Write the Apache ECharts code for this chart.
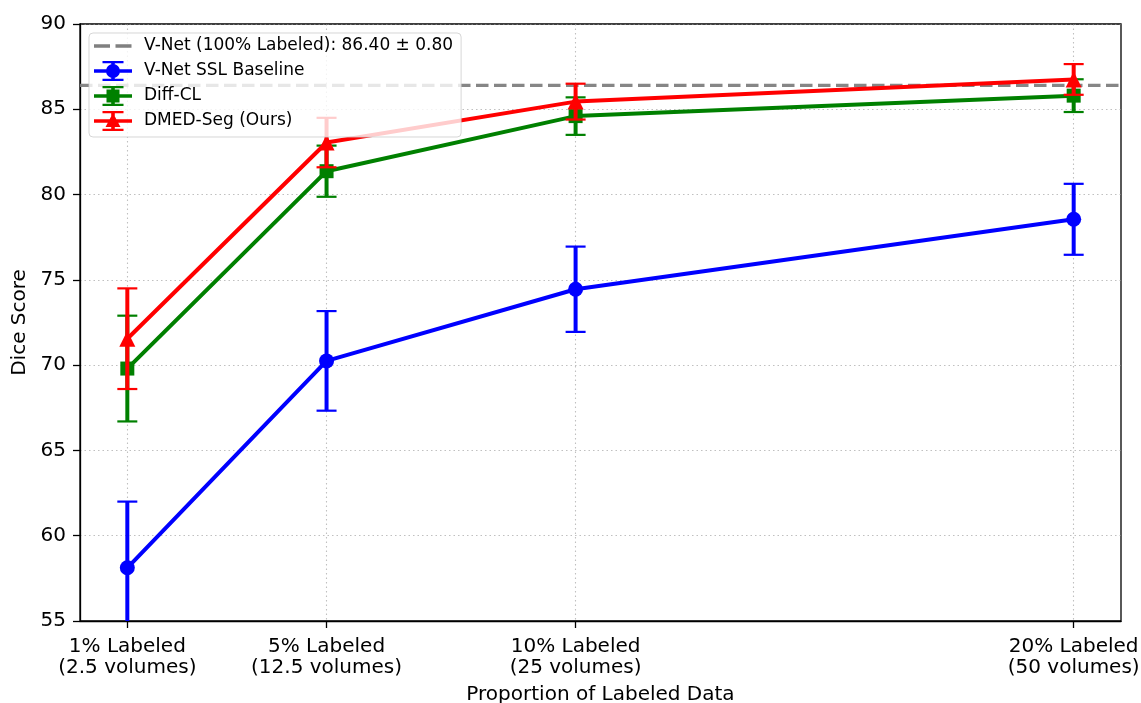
<!DOCTYPE html>
<html>
<head>
<meta charset="utf-8">
<script src="https://cdn.jsdelivr.net/npm/echarts@6/dist/echarts.min.js"></script>
<style>
html,body{margin:0;padding:0;background:#fff;}
#chart{width:1141px;height:703px;}
</style>
</head>
<body>
<div id="chart"></div>
<script>
// ---- data ----
const xVals = [1, 5, 10, 20];
const xLabels = ['1% Labeled\n(2.5 volumes)', '5% Labeled\n(12.5 volumes)', '10% Labeled\n(25 volumes)', '20% Labeled\n(50 volumes)'];
const yTicks = [55, 60, 65, 70, 75, 80, 85, 90];
const baselineName = 'V-Net SSL Baseline';
const baselineMean = [58.12, 70.25, 74.45, 78.55];
const baselineErr = [3.88, 2.92, 2.50, 2.08];
const diffclName = 'Diff-CL';
const diffclMean = [69.80, 81.37, 84.60, 85.80];
const diffclErr = [3.10, 1.50, 1.10, 0.96];
const dmedName = 'DMED-Seg (Ours)';
const dmedMean = [71.55, 83.05, 85.45, 86.75];
const dmedErr = [2.95, 1.45, 1.05, 0.90];
const refName = 'V-Net (100% Labeled): 86.40 ± 0.80';
const refValue = 86.40;
const xMin = 0.05, xMax = 20.95;
const yMin = 55, yMax = 90;

// ---- legend icons ----
const errBase = 'M0 8.2H38V11.8H0Z M17.2 0H20.8V20H17.2Z M8.5 0H29.5V2.2H8.5Z M8.5 17.8H29.5V20H8.5Z ';
const iconCircle = 'path://' + errBase + 'M26 10A7 7 0 1 1 12 10A7 7 0 1 1 26 10Z';
const iconSquare = 'path://' + errBase + 'M12.5 3.5H25.5V16.5H12.5Z';
const iconTri = 'path://' + errBase + 'M19 2L26.5 16L11.5 16Z';
const iconDash = 'path://M0 0H0.01V0.01H0Z M37.99 19.99H38V20H37.99Z M0 8.3H16V11.7H0Z M21.5 8.3H37.5V11.7H21.5Z';

const FONT = 'DejaVu Sans';

function lineData(mean) { return xVals.map((x, i) => [x, mean[i]]); }
function errData(mean, err) { return xVals.map((x, i) => [x, mean[i] - err[i], mean[i] + err[i]]); }

function errRender(color) {
  return function (params, api) {
    const x = api.value(0), lo = api.value(1), hi = api.value(2);
    const pLo = api.coord([x, lo]);
    const pHi = api.coord([x, hi]);
    const cs = params.coordSys;
    const top = cs.y, bot = cs.y + cs.height;
    const clamp = v => Math.max(top, Math.min(bot, v));
    const y1 = clamp(pHi[1]), y2 = clamp(pLo[1]);
    const cx = pLo[0];
    const hw = 10;
    const children = [{
      type: 'line', shape: { x1: cx, y1: y1, x2: cx, y2: y2 },
      style: { stroke: color, lineWidth: 4 }
    }];
    if (pHi[1] >= top && pHi[1] <= bot) children.push({
      type: 'line', shape: { x1: cx - hw, y1: pHi[1], x2: cx + hw, y2: pHi[1] },
      style: { stroke: color, lineWidth: 2.2 }
    });
    if (pLo[1] >= top && pLo[1] <= bot) children.push({
      type: 'line', shape: { x1: cx - hw, y1: pLo[1], x2: cx + hw, y2: pLo[1] },
      style: { stroke: color, lineWidth: 2.2 }
    });
    return { type: 'group', children: children };
  };
}

function lineSeries(name, mean, color, symbol, size, z) {
  return {
    name: name, type: 'line', data: lineData(mean), z: z,
    symbol: symbol, symbolSize: size, showSymbol: true,
    lineStyle: { color: color, width: 4 },
    itemStyle: { color: color, borderWidth: 0 },
    emphasis: { disabled: true }, animation: false
  };
}
function errSeries(name, mean, err, color, z) {
  return {
    name: name, type: 'custom', data: errData(mean, err), z: z,
    renderItem: errRender(color), encode: { x: 0, y: [1, 2] },
    silent: true, animation: false
  };
}

const chart = echarts.init(document.getElementById('chart'), null, { renderer: 'canvas' });
const gridLine = { show: true, lineStyle: { color: 'rgba(150,150,150,0.6)', width: 1.1, type: [1.5, 3] } };

chart.setOption({
  animation: false,
  backgroundColor: '#fff',
  textStyle: { fontFamily: FONT },
  grid: {
    left: 80, right: 20, top: 24, bottom: 82, containLabel: false, outerBoundsMode: 'none',
    show: true, borderColor: '#000', borderWidth: 1.3, backgroundColor: 'transparent'
  },
  legend: {
    orient: 'vertical', left: 89, top: 33, z: 20,
    itemWidth: 38, itemHeight: 20, itemGap: 5,
    padding: [3, 8, 6, 5],
    backgroundColor: 'rgba(255,255,255,0.8)',
    borderColor: 'rgba(204,204,204,0.8)', borderWidth: 1, borderRadius: 4,
    textStyle: { fontFamily: FONT, fontSize: 17, color: '#000', padding: [0, 0, 0, 7] },
    itemStyle: { borderWidth: 0 },
    selectedMode: false,
    data: [
      { name: refName, icon: iconDash },
      { name: baselineName, icon: iconCircle },
      { name: diffclName, icon: iconSquare },
      { name: dmedName, icon: iconTri }
    ]
  },
  xAxis: {
    type: 'value', min: xMin, max: xMax,
    name: 'Proportion of Labeled Data', nameLocation: 'middle', nameGap: 64,
    nameTextStyle: { fontFamily: FONT, fontSize: 20, color: '#000' },
    axisLine: { show: true, onZero: false, lineStyle: { color: '#000', width: 1.3 } },
    axisTick: { show: true, length: 7, lineStyle: { color: '#000', width: 1.3 }, customValues: xVals },
    axisLabel: {
      customValues: xVals, margin: 15, fontFamily: FONT, fontSize: 20, color: '#000', lineHeight: 21,
      formatter: function (v) { const i = xVals.indexOf(v); return i >= 0 ? xLabels[i] : ''; }
    },
    splitLine: gridLine
  },
  yAxis: {
    type: 'value', min: yMin, max: yMax, interval: 5,
    name: 'Dice Score', nameLocation: 'middle', nameGap: 50,
    nameTextStyle: { fontFamily: FONT, fontSize: 20, color: '#000' },
    axisLine: { show: true, onZero: false, lineStyle: { color: '#000', width: 1.3 } },
    axisTick: { show: true, length: 7, lineStyle: { color: '#000', width: 1.3 } },
    axisLabel: { margin: 14, fontFamily: FONT, fontSize: 20, color: '#000' },
    splitLine: gridLine
  },
  series: [
    {
      name: refName, type: 'line', z: 1, data: [[xMin, refValue], [xMax, refValue]],
      symbol: 'none', lineStyle: { color: 'rgba(128,128,128,0.95)', width: 3.4, type: [12.5, 5.5] },
      itemStyle: { color: '#808080' }, emphasis: { disabled: true }, silent: true
    },
    lineSeries(baselineName, baselineMean, '#0000ff', 'circle', 15, 3),
    lineSeries(diffclName, diffclMean, '#008000', 'rect', 14, 5),
    lineSeries(dmedName, dmedMean, '#ff0000', 'triangle', 16, 7),
    errSeries(baselineName, baselineMean, baselineErr, '#0000ff', 2),
    errSeries(diffclName, diffclMean, diffclErr, '#008000', 4),
    errSeries(dmedName, dmedMean, dmedErr, '#ff0000', 6)
  ]
});
</script>
</body>
</html>
